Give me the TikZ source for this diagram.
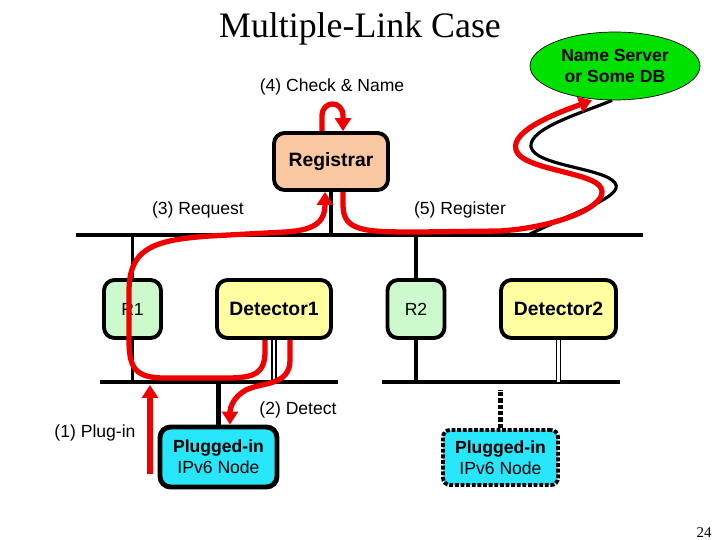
\documentclass[tikz,border=0pt]{standalone}
\usepackage{fontspec}
\setmainfont{Liberation Serif}
\setsansfont{Liberation Sans}
\usetikzlibrary{arrows.meta,shapes.geometric}
\definecolor{regfill}{RGB}{250,200,160}
\definecolor{routerfill}{RGB}{204,250,204}
\definecolor{detfill}{RGB}{255,255,160}
\definecolor{nodefill}{RGB}{40,230,250}
\definecolor{dbfill}{RGB}{0,225,0}
\definecolor{flow}{RGB}{240,0,0}

\begin{document}
\begin{tikzpicture}[x=0.02cm,y=-0.02cm,
    box/.style={draw, line width=2.2pt, rounded corners=6pt, font=\sffamily\bfseries\fontsize{11}{13}\selectfont},
    router/.style={box, fill=routerfill, minimum width=1.14cm, minimum height=1.16cm, font=\sffamily\fontsize{10}{12}\selectfont},
    detector/.style={box, fill=detfill, minimum width=2.28cm, minimum height=1.16cm},
    host/.style={box, fill=nodefill, align=center, font=\sffamily\fontsize{10}{12}\selectfont},
    bus/.style={line width=2.2pt},
    flowarrow/.style={flow, line width=3pt, -{Triangle[length=0.26cm,width=0.32cm]}},
    lbl/.style={font=\sffamily\fontsize{10}{12}\selectfont}]
    \useasboundingbox (0,0) rectangle (720,540);
    % Titre
    \node[font=\fontsize{20.4}{23}\selectfont] (title) at (360,29) {Multiple-Link Case};
    \node (page) at (704,533) {\fontsize{8.5}{9}\selectfont 24};
    % Noeuds
    \node[ellipse, draw, thin, fill=dbfill, minimum width=3.4cm, minimum height=1.36cm, align=center,
        font=\sffamily\bfseries\fontsize{10}{11.5}\selectfont] (ns) at (615,66) {Name Server\\or Some DB};
    \node[box, fill=regfill, minimum width=2.28cm, minimum height=1.14cm] (reg) at (331,161.5) {Registrar};
    \node[router] (r1) at (132.5,309) {R1};
    \node[detector] (det1) at (274,309) {Detector1};
    \node[router] (r2) at (416,309) {R2};
    \node[detector, minimum width=2.3cm] (det2) at (558.5,309) {Detector2};
    \node[host, line width=2.8pt, minimum width=2.34cm, minimum height=1.2cm] (plug1) at (218.5,457)
        {\textbf{Plugged-in}\\IPv6 Node};
    \node[host, densely dotted, line width=2.2pt, rounded corners=4pt, minimum width=2.3cm, minimum height=1.1cm] (plug2) at (500.5,457.5)
        {\textbf{Plugged-in}\\IPv6 Node};
    % Liens
    \coordinate (topL) at (76,235);
    \coordinate (topR) at (643,235);
    \coordinate (lowAL) at (100,382);
    \coordinate (lowAR) at (338,382);
    \coordinate (lowBL) at (382,382);
    \coordinate (lowBR) at (620,382);
    \draw[bus] (topL) -- (topR);
    \draw[bus] (lowAL) -- (lowAR);
    \draw[bus] (lowBL) -- (lowBR);
    \draw[bus] (reg.south) -- (reg.south |- topL);
    \draw[bus] (r1.north) -- (r1.north |- topL);
    \draw[bus] (r1.south) -- (r1.south |- lowAL);
    \draw[bus] (r2.north) -- (r2.north |- topL);
    \draw[bus] (r2.south) -- (r2.south |- lowBL);
    \draw[line width=1.1pt, double=white, double distance=0.9pt] (det1.south) -- (det1.south |- lowAL);
    \draw[line width=0.7pt, double=white, double distance=1.3pt] (det2.south) -- (det2.south |- lowBL);
    \draw[line width=3pt] (plug1.north) -- (plug1.north |- lowAL);
    \draw[line width=2.6pt, densely dotted] (plug2.north) -- ([yshift=-0.16cm]plug2.north |- lowBL);
    % Etiquettes
    \node[lbl] (l1) at (95,433) {(1) Plug-in};
    \node[lbl] (l2) at (298,410) {(2) Detect};
    \node[lbl] (l3) at (198,210) {(3) Request};
    \node[lbl] (l4) at (332,87) {(4) Check \& Name};
    \node[lbl] (l5) at (460,210) {(5) Register};
    % Chemin vers la base
    \draw[line width=1.8pt] (530,234) .. controls (575,212) and (625,196) .. (615,183)
        .. controls (605,168) and (535,166) .. (531,147)
        .. controls (528,128) and (585,112) .. ([xshift=-0.06cm]ns.south);
    % Fleches
    \coordinate (plugfoot) at (150,474);
    \draw[flowarrow] (plugfoot) -- (plugfoot |- 0,385);
    \draw[flowarrow] ([xshift=0.32cm]det1.south) -- (290,360) .. controls (290,386) and (262,382) .. (246,390)
        .. controls (233,397) and (230,408) .. ([xshift=0.23cm]plug1.north);
    \draw[flowarrow] ([xshift=-0.18cm]det1.south) -- (265,352) .. controls (265,376) and (250,378) .. (225,378)
        -- (165,378) .. controls (135,378) and (129,368) .. (129,340) -- (129,292)
        .. controls (129,250) and (150,240) .. (210,236) -- (285,232)
        .. controls (318,230) and (325,220) .. ([xshift=-0.12cm]reg.south);
    \draw[flowarrow] ([xshift=-0.18cm]reg.north) -- (322,116) .. controls (322,100) and (343,100) .. (343,116)
        -- ([xshift=0.24cm]reg.north);
    \draw[flowarrow] ([xshift=0.24cm]reg.south) -- (343,205) .. controls (343,232) and (365,232) .. (420,232)
        -- (500,231) .. controls (560,227) and (610,205) .. (601,188)
        .. controls (594,172) and (522,170) .. (516,150)
        .. controls (510,130) and (560,112) .. ([xshift=-0.46cm]ns.south);
\end{tikzpicture}
\end{document}
